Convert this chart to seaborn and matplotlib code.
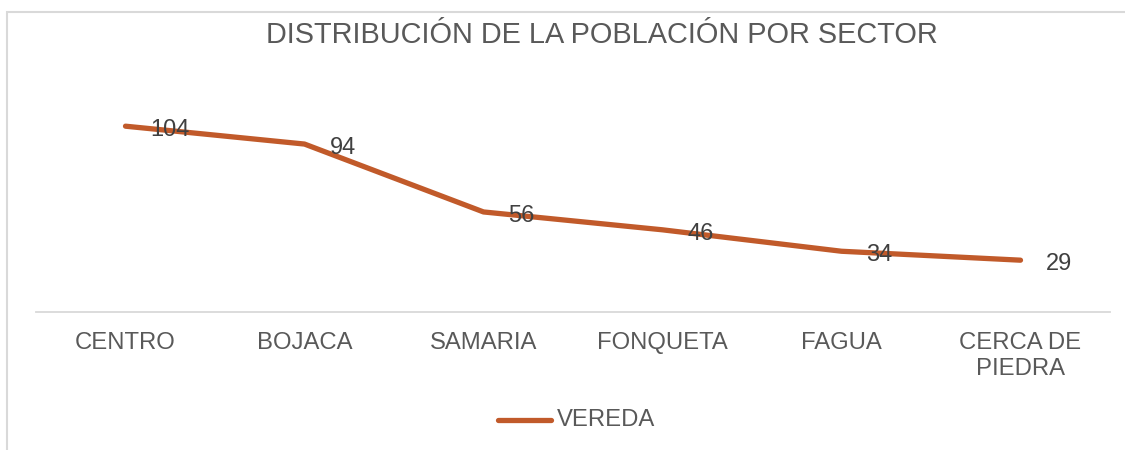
import matplotlib
matplotlib.use("Agg")
import matplotlib.pyplot as plt
import seaborn as sns
import pandas as pd
from matplotlib.patches import Rectangle

categories = ["CENTRO", "BOJACA", "SAMARIA", "FONQUETA", "FAGUA", "CERCA DE\nPIEDRA"]
values = [104, 94, 56, 46, 34, 29]
series_name = "VEREDA"
title = "DISTRIBUCIÓN DE LA POBLACIÓN POR SECTOR"

sns.set_theme(style="white")
plt.rcParams['font.family'] = ['Liberation Sans', 'DejaVu Sans']

W, H = 1125, 450
fig = plt.figure(figsize=(W / 100, H / 100), dpi=100)
ax = fig.add_axes([36 / W, 1 - 312 / H, (1110 - 36) / W, (312 - 97.6) / H])

df = pd.DataFrame({"sector": categories, "value": values, "serie": series_name})
color = "#C15A2A"
sns.lineplot(data=df, x="sector", y="value", hue="serie", palette=[color],
             linewidth=3.8, sort=False, ax=ax, legend=False, solid_capstyle="round")

ax.set_xlim(-0.5, len(categories) - 0.5)
ax.set_ylim(0, 120)
ax.set_xlabel("")
ax.set_ylabel("")
ax.set_yticks([])
for s in ["top", "right", "left"]:
    ax.spines[s].set_visible(False)
ax.spines["bottom"].set_color("#d9d9d9")
ax.spines["bottom"].set_linewidth(1.3)
ax.tick_params(axis="x", length=0, pad=14.3, labelsize=17.2, labelcolor="#595959")
ax.set_xticks(range(len(categories)))
ax.set_xticklabels(categories, va="top")
for t in ax.get_xticklabels():
    t.set_linespacing(1.22)

for i, v in enumerate(values):
    ax.annotate(str(v), (i, v), xytext=(18, -2.8), textcoords="offset points",
                ha="left", va="center", fontsize=17, color="#404040")

fig.text(602 / W, 1 - 35 / H, title, ha="center", va="center",
         fontsize=20.8, color="#595959")

# legend
lx0, lx1, ly = 498 / W, 551 / W, 1 - 420 / H
fig.add_artist(plt.Line2D([lx0, lx1], [ly, ly], color=color, linewidth=3.8,
                          solid_capstyle="round", transform=fig.transFigure))
fig.text(557 / W, ly, series_name, ha="left", va="center", fontsize=17.2, color="#595959")

# chart frame
fig.add_artist(Rectangle((7 / W, -0.2), 1.2, (H - 12) / H + 0.2, transform=fig.transFigure,
                         fill=False, edgecolor="#d9d9d9", linewidth=1.5))

fig.savefig("out.png", dpi=100)
